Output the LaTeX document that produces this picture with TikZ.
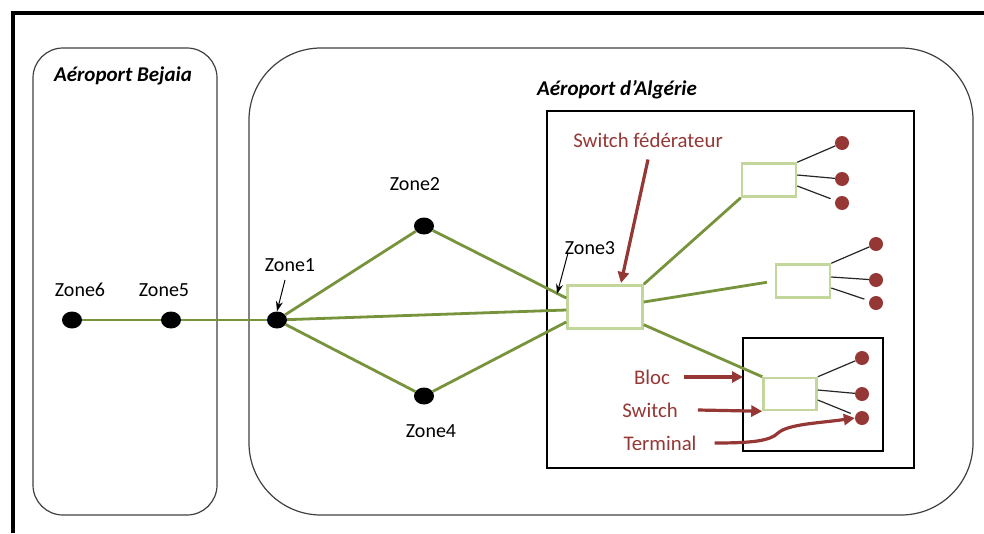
\documentclass[tikz,border=0pt]{standalone}
\usepackage{fontspec}
\setmainfont{Carlito}
\usetikzlibrary{arrows.meta,shapes.geometric}
\definecolor{linkgreen}{HTML}{77933C}
\definecolor{boxgreen}{HTML}{C3D69B}
\definecolor{accred}{HTML}{953735}
\definecolor{framegray}{HTML}{404040}
\begin{document}
\begin{tikzpicture}[x=1pt,y=-1pt,
  every node/.style={font=\fontsize{20}{24}\selectfont},
  title/.style={font=\fontsize{21}{25}\selectfont\bfseries\itshape},
  lbl/.style={inner sep=0pt},
  redlbl/.style={inner sep=0pt,text=accred,font=\fontsize{20.8}{25}\selectfont},
  zonedot/.style={ellipse,fill=black,minimum width=20pt,minimum height=17pt,inner sep=0pt},
  termdot/.style={circle,fill=accred,minimum size=14pt,inner sep=0pt},
  swbox/.style={draw=boxgreen,line width=2.5pt,inner sep=0pt},
  link/.style={draw=linkgreen,line width=2.8pt},
  thinlink/.style={draw=linkgreen,line width=2pt},
  wire/.style={draw=black!85,line width=1.2pt},
  callout/.style={draw=black,line width=1pt,-{Stealth[length=10pt,width=7pt]}},
  redarrow/.style={draw=accred,line width=3.2pt,-{Triangle[length=11pt,width=11pt]}},
  zonebox/.style={draw=framegray,line width=1.2pt}
]
\useasboundingbox (0,0) rectangle (984,533);

% page frame (top and left edges)
\draw[line width=3.5pt] (13,533) -- (13,13) -- (984,13);

% airport areas
\draw[zonebox,rounded corners=30pt] (33,48) rectangle (217,515);
\draw[zonebox,rounded corners=72pt] (249,48) rectangle (973,515);
\node[title,lbl] (tBej) at (123,76) {Aéroport Bejaia};
\node[title,lbl] (tAlg) at (617,90) {Aéroport d’Algérie};

% zone 3 area and bloc
\draw[wire,draw=black] (547,111) rectangle (914,468);
\draw[wire,draw=black] (743,338) rectangle (883,451);

% zones
\node[zonedot] (z6) at (72,320) {};
\node[zonedot] (z5) at (171,320) {};
\node[zonedot] (z1) at (277,320) {};
\node[zonedot] (z2) at (424,226) {};
\node[zonedot] (z4) at (424,396) {};

\node[lbl] (l6) at (80,290) {Zone6};
\node[lbl] (l5) at (164,290) {Zone5};
\node[lbl] (l1) at (290,265) {Zone1};
\node[lbl] (l2) at (415,184) {Zone2};
\node[lbl] (l4) at (431,431) {Zone4};
\node[lbl] (l3) at (590,248) {Zone3};

% switches
\node[swbox,minimum width=75pt,minimum height=43pt] (sw) at (605,307) {};
\node[swbox,minimum width=54pt,minimum height=33pt] (swA) at (769,180) {};
\node[swbox,minimum width=54pt,minimum height=33pt] (swB) at (803,281) {};
\node[swbox,minimum width=53pt,minimum height=32pt] (swC) at (790,394) {};

% terminals
\node[termdot] (a1) at (842,143) {};
\node[termdot] (a2) at (842,179) {};
\node[termdot] (a3) at (842,203) {};
\node[termdot] (b1) at (876,244) {};
\node[termdot] (b2) at (876,280) {};
\node[termdot] (b3) at (876,303) {};
\node[termdot] (c1) at (862,358) {};
\node[termdot] (c2) at (862,394) {};
\node[termdot] (c3) at (862,418) {};

% links between zones
\draw[thinlink] (z6) -- (z5);
\draw[thinlink] (z5) -- (z1);
\draw[link] (z1) -- (z2);
\draw[link] (z1) -- (z4);
\draw[link] (z1) -- ([yshift=-3pt]sw.west);
\draw[link] (z2) -- ([yshift=9pt]sw.west);
\draw[link] (z4) -- ([yshift=-15pt]sw.west);

% links from the federating switch
\draw[link] (sw.north east) -- (swA.south west);
\draw[link,shorten >=8pt] ([yshift=5pt]sw.east) -- (swB.west);
\draw[link] ([yshift=5pt]sw.south east) -- (swC.north west);

% terminal wires
\draw[wire] (swA.north east) -- (a1);
\draw[wire] ([yshift=5pt]swA.east) -- (a2);
\draw[wire,shorten >=5pt] ([yshift=-6pt]swA.east) -- (a3);
\draw[wire] (swB.north east) -- (b1);
\draw[wire] ([yshift=4pt]swB.east) -- (b2);
\draw[wire,shorten >=5pt] ([yshift=-7pt]swB.east) -- (b3);
\draw[wire] (swC.north east) -- (c1);
\draw[wire] ([yshift=4pt]swC.east) -- (c2);
\draw[wire,shorten >=5pt] ([yshift=-6pt]swC.east) -- (c3);

% callouts
\coordinate (k1) at (285,280);
\draw[callout] (k1) -- (z1.north);
\coordinate (k3) at (568,253);
\draw[callout] (k3) -- (557,294);

% legend
\node[redlbl] (sf) at (648,140) {Switch fédérateur};
\node[redlbl] (lb) at (652,377) {Bloc};
\node[redlbl] (ls) at (650,410) {Switch};
\node[redlbl] (lt) at (660,443) {Terminal};
\draw[redarrow] ([yshift=-12pt]sf.south) -- (621,283);
\draw[redarrow] ([xshift=14pt]lb.east) -- (743,377);
\draw[redarrow] ([xshift=20pt]ls.east) -- (swC.south west);
\draw[redarrow] ([xshift=18pt]lt.east) .. controls (752,443) and (770,441) .. (778,433)
  .. controls (788,424) and (820,423) .. (c3.west);
\end{tikzpicture}
\end{document}
